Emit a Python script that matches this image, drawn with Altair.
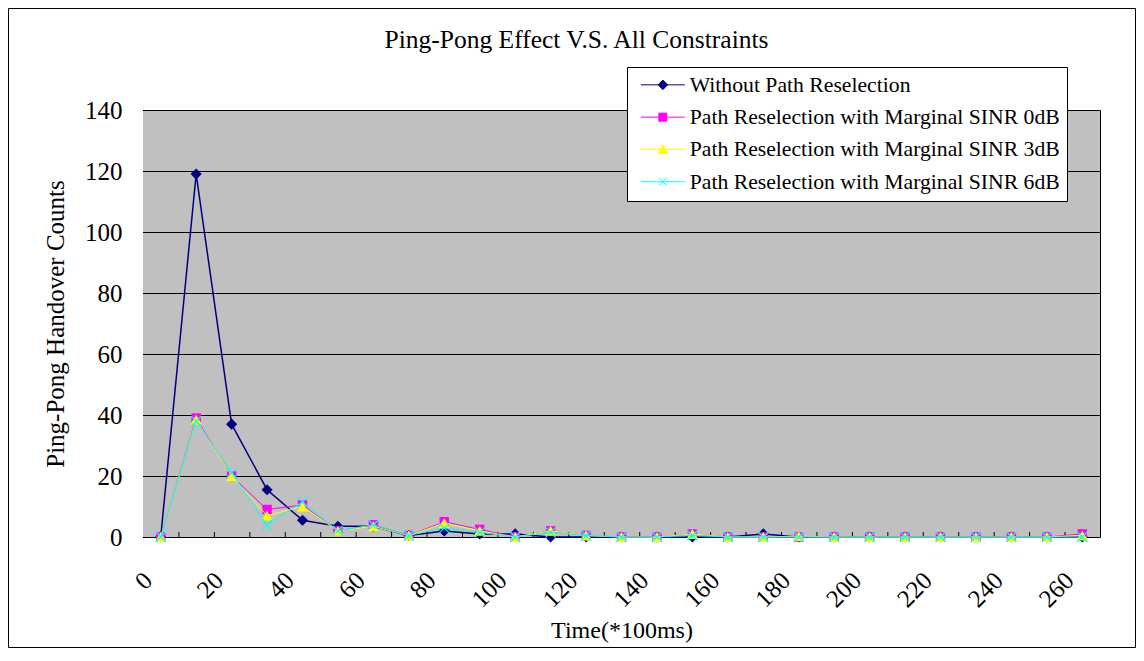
import altair as alt
import pandas as pd

# ---- data ----
times = list(range(0, 270, 10))
series_names = [
    "Without Path Reselection",
    "Path Reselection with Marginal SINR 0dB",
    "Path Reselection with Marginal SINR 3dB",
    "Path Reselection with Marginal SINR 6dB",
]
without_reselection = [0, 119, 37, 15.5, 5.5, 3.5, 3.5, 0.5, 2, 1, 1, 0, 0, 0, 0, 0, 0, 1, 0, 0, 0, 0, 0, 0, 0, 0, 0]
sinr_0db = [0, 39, 20, 9, 10.5, 2, 4, 0.5, 5, 2.5, 0, 2, 0.5, 0, 0, 1, 0, 0, 0, 0, 0, 0, 0, 0, 0, 0, 1]
sinr_3db = [0, 38.5, 20, 7, 10, 2, 3.5, 0.5, 4.5, 2, 0, 2, 0.5, 0, 0, 1, 0, 0, 0.3, 0, 0, 0, 0, 0, 0, 0, 0.5]
sinr_6db = [0, 38, 21, 4, 11.5, 2, 4, 0.5, 3, 1.5, 0, 1.5, 0.5, 0, 0, 0.5, 0, 0, 0, 0, 0, 0, 0, 0, 0, 0, 0]
x_label_values = list(range(0, 261, 20))
y_tick_values = list(range(0, 141, 20))

# ---- styles ----
colors = ["#000080", "#FF00FF", "#FFFF00", "#00FFFF"]
x_path = "M-1,-1L1,1M-1,1L1,-1"
marker_shapes = ["diamond", "square", "triangle-up", x_path]
marker_sizes = [125, 90, 130, 100]
line_widths = [1.5, 1, 1, 1]
legend_shapes = [
    "M-5.5,0H5.5M-1.2,0L0,-1.2L1.2,0L0,1.2Z",
    "M-5.5,0H5.5M-1,-1H1V1H-1Z",
    "M-5.5,0H5.5M-1.2,1L0,-1.2L1.2,1Z",
    "M-5.5,0H5.5M-1,-1L1,1M-1,1L1,-1",
]
FONT = "Liberation Serif"
X_SCALE = alt.Scale(domain=[-5, 265], nice=False, zero=False)
Y_SCALE = alt.Scale(domain=[0, 140], nice=False)

rows = []
for name, vals in zip(series_names, [without_reselection, sinr_0db, sinr_3db, sinr_6db]):
    for t, v in zip(times, vals):
        rows.append({"time": t, "count": v, "series": name})
df = pd.DataFrame(rows)

x_enc = alt.X(
    "time:Q",
    scale=X_SCALE,
    axis=alt.Axis(
        values=x_label_values, labelAngle=-45, labelAlign="right", labelBaseline="middle",
        labelFont=FONT, labelFontSize=25, labelColor="black", labelPadding=39, labelOffset=-13,
        ticks=False, tickSize=0, domain=False, grid=False, labelFlush=False, labelOverlap=False,
        title="Time(*100ms)", titleFont=FONT, titleFontSize=24, titleFontWeight="normal",
        titleColor="black", titleY=93, titleBaseline="middle",
    ),
)
y_enc = alt.Y(
    "count:Q",
    scale=Y_SCALE,
    axis=alt.Axis(
        values=y_tick_values, grid=False,
        ticks=False, tickSize=0, domain=False, labelFont=FONT, labelFontSize=25,
        labelColor="black", labelPadding=21,
        title="Ping-Pong Handover Counts", titleFont=FONT, titleFontSize=25,
        titleFontWeight="normal", titleColor="black", titleX=-88, titleBaseline="middle",
    ),
)

base = alt.Chart(df)
layers = []

# outer frame of the figure (decoration)
frame = alt.Chart(pd.DataFrame({"f": [0]})).mark_rect(
    fillOpacity=0, stroke="black", strokeWidth=1
).encode(x=alt.value(-134.5), x2=alt.value(992.5), y=alt.value(-101.5), y2=alt.value(537.5))
layers.append(frame)

# grey plot area
plot_bg = alt.Chart(pd.DataFrame({"f": [0]})).mark_rect(color="#C0C0C0").encode(
    x=alt.value(0), x2=alt.value("width"), y=alt.value(0), y2=alt.value("height")
)
layers.append(plot_bg)

# horizontal gridlines at the y tick values
grid_layer = alt.Chart(pd.DataFrame({"g": y_tick_values})).mark_rule(
    color="black", strokeWidth=1, yOffset=0.5
).encode(y=alt.Y("g:Q", scale=Y_SCALE), x=alt.value(0), x2=alt.value("width"))
layers.append(grid_layer)

# inward category tick marks at band boundaries
ticks_df = pd.DataFrame({"b": [t + 5 for t in times[:-1]]})
tick_layer = alt.Chart(ticks_df).mark_rule(color="black", strokeWidth=1, xOffset=0.5).encode(
    x=alt.X("b:Q", scale=X_SCALE),
    y=alt.value(427), y2=alt.value(422),
)
layers.append(tick_layer)

for i, name in enumerate(series_names):
    sub = base.transform_filter(alt.datum.series == name)
    line = sub.mark_line(color=colors[i], strokeWidth=line_widths[i]).encode(x=x_enc, y=y_enc)
    if i == 3:
        pts = sub.mark_point(shape=marker_shapes[i], filled=False, stroke=colors[i],
                             strokeWidth=1.2, size=marker_sizes[i], opacity=1).encode(x=x_enc, y=y_enc)
    else:
        pts = sub.mark_point(shape=marker_shapes[i], filled=True, color=colors[i],
                             size=marker_sizes[i], opacity=1).encode(x=x_enc, y=y_enc)
    layers.append(line)
    layers.append(pts)

# legend layer (no marks drawn, only the legend)
legend_cfg = alt.Legend(
    title=None, orient="none", legendX=484, legendY=-43,
    fillColor="white", strokeColor="black", padding=7, cornerRadius=0,
    labelFont=FONT, labelFontSize=21.7, labelColor="black", labelLimit=600,
    symbolSize=64, symbolStrokeWidth=1, symbolOffset=18, labelOffset=16, rowPadding=9.3,
)
legend_layer = base.transform_filter("datum.count < 0").mark_point(filled=True, opacity=1).encode(
    fill=alt.Fill("series:N", scale=alt.Scale(domain=series_names, range=colors), legend=legend_cfg),
    stroke=alt.Stroke("series:N", scale=alt.Scale(domain=series_names, range=colors), legend=legend_cfg),
    shape=alt.Shape("series:N", scale=alt.Scale(domain=series_names, range=legend_shapes), legend=legend_cfg),
)
layers.append(legend_layer)

chart = alt.layer(*layers).properties(
    width=957, height=427,
    autosize=alt.AutoSizeParams(type="none"),
    padding={"left": 135, "top": 102, "right": 36, "bottom": 112},
    title=alt.TitleParams(
        "Ping-Pong Effect V.S. All Constraints", font=FONT, fontSize=25.5, fontWeight="normal",
        color="black", anchor="middle", dx=-45, dy=45, offset=0,
    ),
).configure_view(stroke="black", strokeWidth=1)

chart.save("out.html", embed_options={"renderer": "svg", "actions": False})
